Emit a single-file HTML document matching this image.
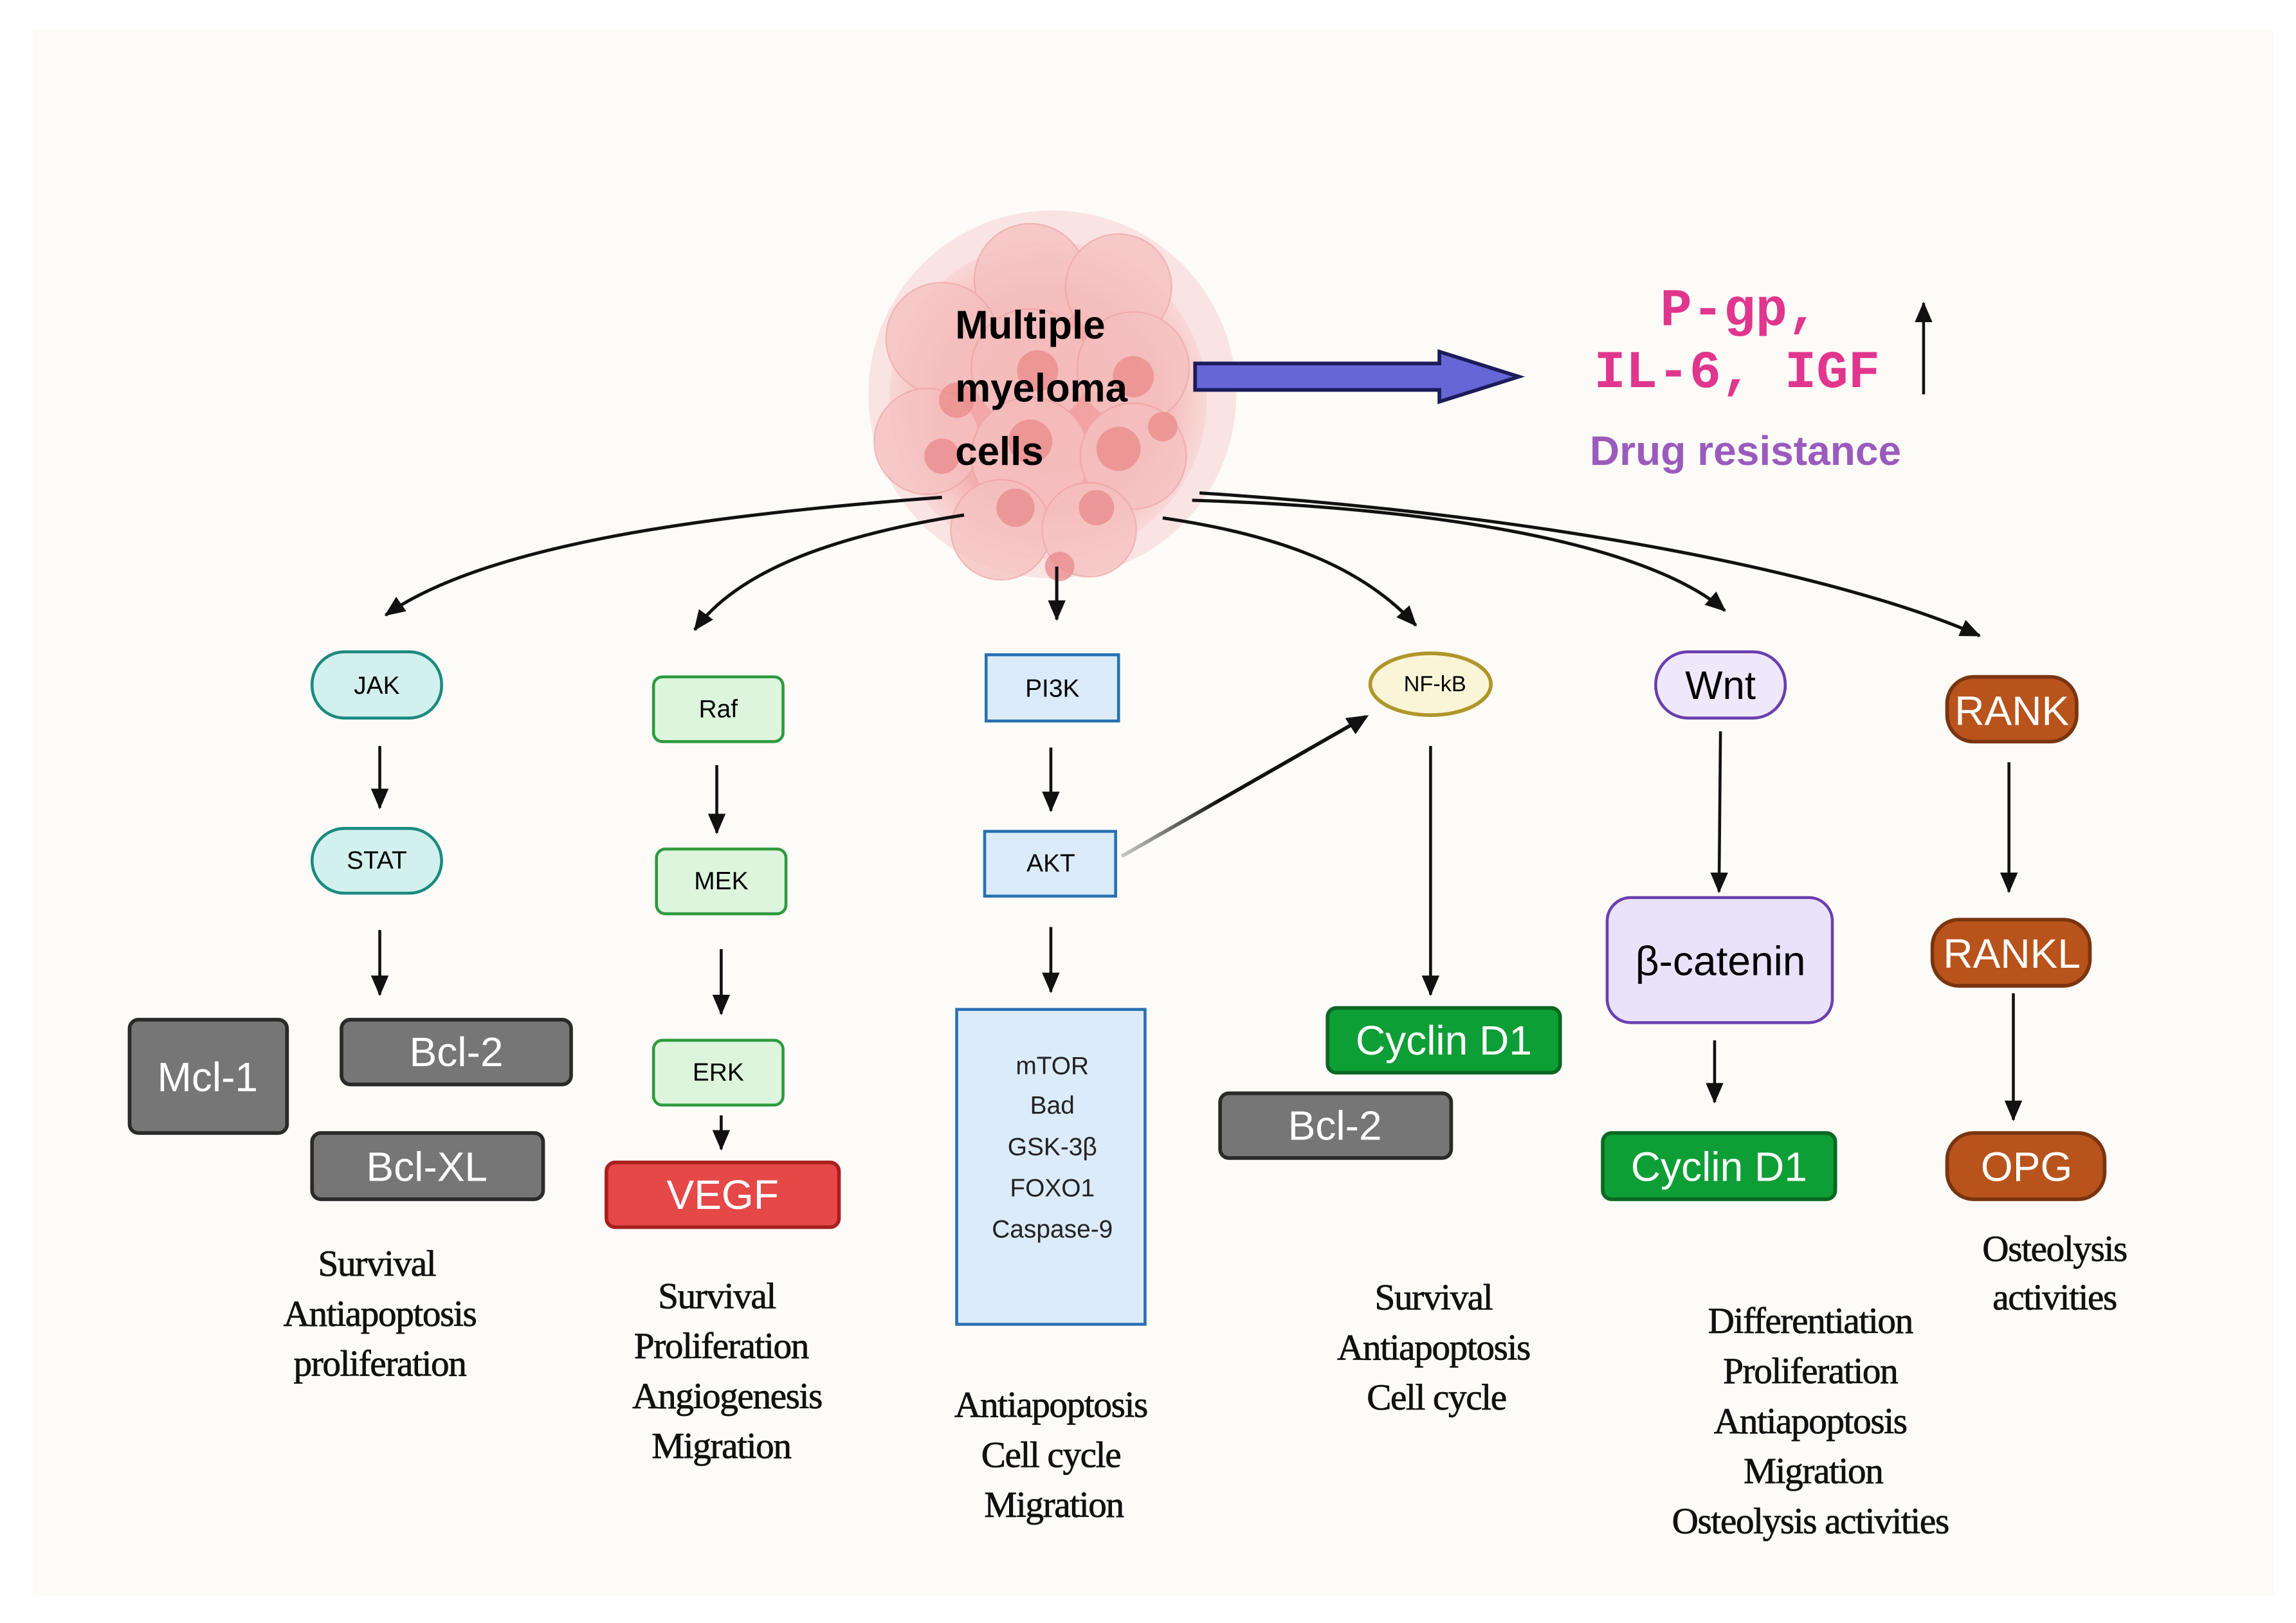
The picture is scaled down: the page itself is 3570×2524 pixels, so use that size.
<!DOCTYPE html>
<html><head><meta charset="utf-8"><style>
html,body{margin:0;padding:0;background:#fff;}
svg{display:block;}
.n{font-family:"Liberation Sans",sans-serif;text-anchor:middle;dominant-baseline:central;}
.s{font-family:"Liberation Serif",serif;font-size:25px;text-anchor:middle;fill:#111;letter-spacing:-0.6px;stroke:#111;stroke-width:0.35px;}
</style></head><body>
<svg width="3570" height="2524" viewBox="0 0 1560 1103" xmlns="http://www.w3.org/2000/svg">
<defs>
<marker id="b" markerWidth="14" markerHeight="12" refX="13" refY="6" orient="auto" markerUnits="userSpaceOnUse"><path d="M0,0 L14,6 L0,12 Z" fill="#111"/></marker>
<linearGradient id="g" x1="0" y1="0" x2="1" y2="0"><stop offset="0" stop-color="#ccc"/><stop offset="0.4" stop-color="#111"/></linearGradient>
<radialGradient id="c" cx="0.5" cy="0.5" r="0.5"><stop offset="0" stop-color="#f29a9a"/><stop offset="0.7" stop-color="#f4b0b0"/><stop offset="1" stop-color="#f8d0d0" stop-opacity="0.6"/></radialGradient>
</defs>
<rect x="0" y="0" width="1560" height="1103" fill="#fff"/>
<rect x="22" y="20" width="1523" height="1065" fill="#fcfbf8"/>

<g>
<circle cx="715" cy="268" r="125" fill="#fadada" opacity="0.7"/>
<circle cx="712" cy="272" r="108" fill="url(#c)"/>
<g fill="#f6c2c2" opacity="0.8" stroke="#f0a8a8" stroke-width="1">
<circle cx="700" cy="190" r="38"/><circle cx="760" cy="195" r="36"/><circle cx="640" cy="230" r="38"/>
<circle cx="700" cy="250" r="40"/><circle cx="770" cy="250" r="38"/><circle cx="630" cy="300" r="36"/>
<circle cx="700" cy="310" r="40"/><circle cx="770" cy="310" r="36"/><circle cx="680" cy="360" r="34"/><circle cx="740" cy="360" r="32"/>
</g>
<g fill="#e98a8a" opacity="0.75">
<circle cx="705" cy="252" r="14"/><circle cx="770" cy="256" r="14"/><circle cx="650" cy="272" r="12"/>
<circle cx="700" cy="300" r="15"/><circle cx="760" cy="305" r="15"/><circle cx="640" cy="310" r="12"/>
<circle cx="690" cy="345" r="13"/><circle cx="745" cy="345" r="12"/><circle cx="720" cy="385" r="10"/><circle cx="790" cy="290" r="10"/>
</g>
</g>
<g font-family="Liberation Sans,sans-serif" font-weight="bold" font-size="27" fill="#000">
<text x="649" y="230">Multiple</text><text x="649" y="273">myeloma</text><text x="649" y="316">cells</text>
</g>

<path d="M812,247 L978,247 L978,239 L1032,256 L978,273 L978,265 L812,265 Z" fill="#6666d6" stroke="#1c1c5a" stroke-width="2.5"/>
<g font-family="Liberation Mono,monospace" font-size="36" fill="#e0368d" font-weight="bold">
<text x="1128" y="221">P-gp,</text><text x="1083" y="263">IL-6, IGF</text>
</g>
<line x1="1307" y1="268" x2="1307" y2="206" stroke="#111" stroke-width="2" marker-end="url(#b)"/>
<text x="1186" y="316" font-family="Liberation Sans,sans-serif" font-weight="bold" font-size="28" fill="#9b5bbd" text-anchor="middle">Drug resistance</text>

<g fill="none" stroke="#111" stroke-width="2.2">
<path d="M640,338 C480,350 330,370 262,418" marker-end="url(#b)"/>
<path d="M655,350 C560,365 500,390 472,428" marker-end="url(#b)"/>
<path d="M718,385 L718,421" marker-end="url(#b)"/>
<path d="M790,352 C880,365 930,390 962,425" marker-end="url(#b)"/>
<path d="M810,340 C980,345 1120,370 1172,415" marker-end="url(#b)"/>
<path d="M815,335 C1050,350 1250,390 1345,432" marker-end="url(#b)"/>
</g>

<g stroke="#111" stroke-width="2" marker-end="url(#b)">
<line x1="258" y1="507" x2="258" y2="549"/>
<line x1="258" y1="632" x2="258" y2="676"/>
<line x1="487" y1="520" x2="487" y2="566"/>
<line x1="490" y1="645" x2="490" y2="689"/>
<line x1="490" y1="758" x2="490" y2="781"/>
<line x1="714" y1="508" x2="714" y2="551"/>
<line x1="714" y1="630" x2="714" y2="674"/>
<line x1="972" y1="507" x2="972" y2="676"/>
<line x1="1169" y1="497" x2="1168" y2="606"/>
<line x1="1165" y1="707" x2="1165" y2="749"/>
<line x1="1365" y1="518" x2="1365" y2="606"/>
<line x1="1368" y1="675" x2="1368" y2="761"/>
</g>
<line x1="762" y1="582" x2="928" y2="487" stroke="url(#g)" stroke-width="2.5"/>
<path d="M930,486 L914,488 L921,499 Z" fill="#111"/>

<rect x="212" y="443" width="88" height="45" rx="22" fill="#d2f0ed" stroke="#1b8a80" stroke-width="2"/>
<text class="n" x="256" y="466" font-size="17">JAK</text>
<rect x="212" y="563" width="88" height="44" rx="22" fill="#d2f0ed" stroke="#1b8a80" stroke-width="2"/>
<text class="n" x="256" y="585" font-size="17">STAT</text>
<g fill="#767676" stroke="#2a2a2a" stroke-width="2.5">
<rect x="88" y="693" width="107" height="77" rx="6"/>
<rect x="232" y="693" width="156" height="44" rx="6"/>
<rect x="212" y="770" width="157" height="45" rx="6"/>
<rect x="829" y="743" width="157" height="44" rx="6"/>
</g>
<text class="n" x="141" y="732" fill="#fff" font-size="28">Mcl-1</text>
<text class="n" x="310" y="715" fill="#fff" font-size="28">Bcl-2</text>
<text class="n" x="290" y="793" fill="#fff" font-size="28">Bcl-XL</text>
<text class="n" x="907" y="765" fill="#fff" font-size="28">Bcl-2</text>

<g fill="#ddf5dd" stroke="#2e9a3e" stroke-width="2">
<rect x="444" y="460" width="88" height="44" rx="6"/>
<rect x="446" y="577" width="88" height="44" rx="6"/>
<rect x="444" y="707" width="88" height="44" rx="6"/>
</g>
<text class="n" x="488" y="482" font-size="17">Raf</text>
<text class="n" x="490" y="599" font-size="17">MEK</text>
<text class="n" x="488" y="729" font-size="17">ERK</text>
<rect x="412" y="790" width="158" height="44" rx="6" fill="#e64848" stroke="#a82020" stroke-width="2.5"/>
<text class="n" x="491" y="812" font-size="28" fill="#fff">VEGF</text>

<g fill="#dbebf9" stroke="#2870b2" stroke-width="2">
<rect x="670" y="445" width="90" height="45"/>
<rect x="669" y="565" width="89" height="44"/>
<rect x="650" y="686" width="128" height="214"/>
</g>
<text class="n" x="715" y="468" font-size="17">PI3K</text>
<text class="n" x="714" y="587" font-size="17">AKT</text>
<g font-family="Liberation Sans,sans-serif" font-size="17" text-anchor="middle" fill="#222">
<text x="715" y="730">mTOR</text><text x="715" y="757">Bad</text><text x="715" y="785">GSK-3β</text><text x="715" y="813">FOXO1</text><text x="715" y="841">Caspase-9</text>
</g>

<ellipse cx="972" cy="465" rx="41" ry="21" fill="#faf5d6" stroke="#b0962a" stroke-width="2.5"/>
<text class="n" x="975" y="465" font-size="15">NF-kB</text>
<rect x="902" y="685" width="158" height="44" rx="6" fill="#0e9e36" stroke="#0a6822" stroke-width="2.5"/>
<text class="n" x="981" y="707" font-size="28" fill="#fff">Cyclin D1</text>

<rect x="1125" y="443" width="88" height="45" rx="22" fill="#efe8fb" stroke="#6a3fae" stroke-width="2"/>
<text class="n" x="1169" y="466" font-size="27">Wnt</text>
<rect x="1092" y="610" width="153" height="85" rx="16" fill="#e8e2fa" stroke="#6a3fae" stroke-width="2"/>
<text class="n" x="1169" y="653" font-size="28">β-catenin</text>
<rect x="1089" y="770" width="158" height="45" rx="6" fill="#0e9e36" stroke="#0a6822" stroke-width="2.5"/>
<text class="n" x="1168" y="793" font-size="28" fill="#fff">Cyclin D1</text>

<g fill="#b8531b" stroke="#7a3510" stroke-width="2.5">
<rect x="1323" y="460" width="88" height="44" rx="18"/>
<rect x="1313" y="625" width="107" height="45" rx="18"/>
<rect x="1323" y="770" width="107" height="45" rx="18"/>
</g>
<text class="n" x="1367" y="483" font-size="28" fill="#fff">RANK</text>
<text class="n" x="1367" y="648" font-size="28" fill="#fff">RANKL</text>
<text class="n" x="1377" y="793" font-size="28" fill="#fff">OPG</text>

<text class="s" x="256" y="867">Survival</text><text class="s" x="258" y="901">Antiapoptosis</text><text class="s" x="258" y="935">proliferation</text>
<text class="s" x="487" y="889">Survival</text><text class="s" x="490" y="923">Proliferation</text><text class="s" x="494" y="957">Angiogenesis</text><text class="s" x="490" y="991">Migration</text>
<text class="s" x="714" y="963">Antiapoptosis</text><text class="s" x="714" y="997">Cell cycle</text><text class="s" x="716" y="1031">Migration</text>
<text class="s" x="974" y="890">Survival</text><text class="s" x="974" y="924">Antiapoptosis</text><text class="s" x="976" y="958">Cell cycle</text>
<text class="s" x="1230" y="906">Differentiation</text><text class="s" x="1230" y="940">Proliferation</text><text class="s" x="1230" y="974">Antiapoptosis</text><text class="s" x="1232" y="1008">Migration</text><text class="s" x="1230" y="1042">Osteolysis activities</text>
<text class="s" x="1396" y="857">Osteolysis</text><text class="s" x="1396" y="890">activities</text>
</svg>
</body></html>
